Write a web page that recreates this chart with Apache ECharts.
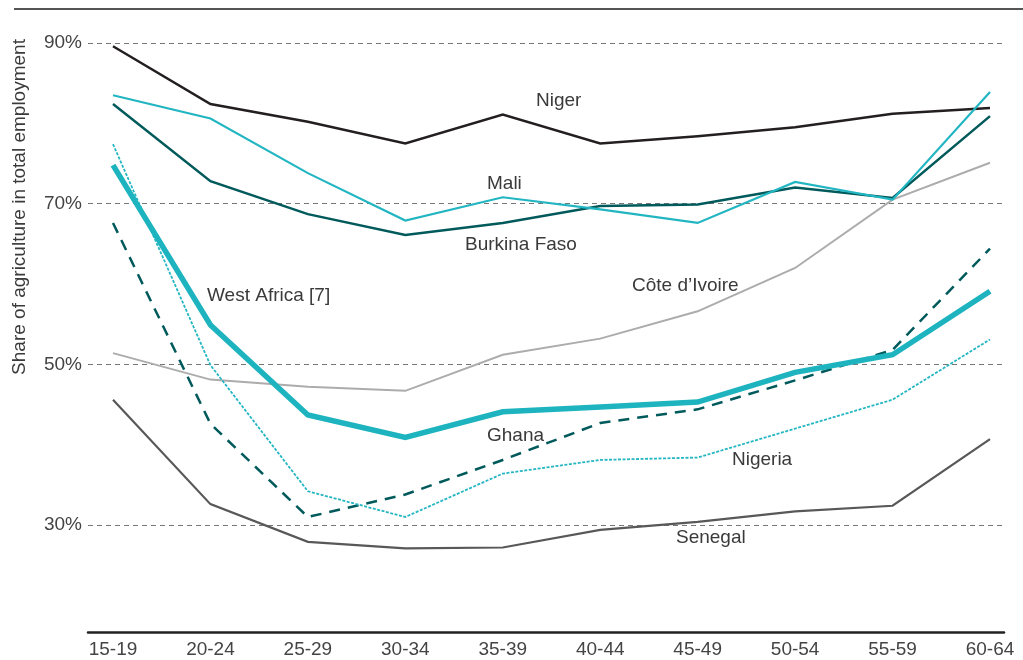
<!DOCTYPE html>
<html>
<head>
<meta charset="utf-8">
<script src="https://cdn.jsdelivr.net/npm/echarts@6/dist/echarts.min.js"></script>
<style>
  html, body { margin: 0; padding: 0; background: #fff; }
  #main { width: 1023px; height: 660px; }
</style>
</head>
<body>
<div id="main"></div>
<script>
// age groups on the x axis
var ageGroups = ['15-19', '20-24', '25-29', '30-34', '35-39', '40-44', '45-49', '50-54', '55-59', '60-64'];
var yTicks = [10, 30, 50, 70, 90];

// share of agriculture in total employment, %
var niger        = [89.6, 82.4, 80.2, 77.5, 81.1, 77.5, 78.4, 79.5, 81.2, 81.9];
var mali         = [83.5, 80.6, 73.8, 67.9, 70.8, 69.3, 67.6, 72.7, 70.5, 83.9];
var burkinaFaso  = [82.4, 72.8, 68.7, 66.1, 67.6, 69.7, 69.9, 72.0, 70.7, 80.9];
var coteDIvoire  = [51.4, 48.1, 47.2, 46.7, 51.2, 53.2, 56.6, 62.0, 70.5, 75.1];
var westAfrica   = [74.8, 54.9, 43.7, 40.9, 44.1, 44.7, 45.3, 49.0, 51.2, 59.1];
var ghana        = [67.6, 42.6, 31.0, 33.8, 38.1, 42.7, 44.4, 48.0, 51.8, 64.4];
var nigeria      = [77.4, 49.9, 34.2, 31.0, 36.4, 38.1, 38.4, 42.0, 45.6, 53.1];
var senegal      = [45.6, 32.6, 27.9, 27.1, 27.2, 29.4, 30.4, 31.7, 32.4, 40.7];

var font = 'Liberation Sans, Arial, sans-serif';
var chart = echarts.init(document.getElementById('main'));

function line(name, data, color, width, dash) {
  return {
    name: name,
    type: 'line',
    xAxisIndex: 1,
    yAxisIndex: 1,
    data: data,
    symbol: 'none',
    lineStyle: { color: color, width: width, type: dash || 'solid', join: 'miter' },
    z: 3
  };
}

function note(text, x, y) {
  return {
    type: 'text', x: x, y: y,
    style: { text: text, fill: '#3a3a3a', font: '19px ' + font, textVerticalAlign: 'middle' }
  };
}

var option = {
  animation: false,
  backgroundColor: '#fff',
  grid: [
    { left: 88, right: 19, top: 43, bottom: -25.7, containLabel: false, outerBoundsMode: 'none' },
    { left: 113, right: 33, top: 43, bottom: -25.7, containLabel: false, outerBoundsMode: 'none' }
  ],
  xAxis: [
    {
      type: 'category', gridIndex: 0, data: ageGroups, offset: -53.7,
      axisLine: { show: true, onZero: false, lineStyle: { color: '#222', width: 2.5 } },
      axisTick: { show: false }, axisLabel: { show: false }, splitLine: { show: false }
    },
    {
      type: 'category', gridIndex: 1, data: ageGroups, boundaryGap: false, offset: -53.7,
      axisLine: { show: false, onZero: false }, axisTick: { show: false },
      axisLabel: { color: '#444', fontSize: 19, fontFamily: font, margin: 8, interval: 0 },
      splitLine: { show: false }
    }
  ],
  yAxis: [
    {
      type: 'value', gridIndex: 0, min: yTicks[0], max: yTicks[yTicks.length - 1], interval: 20,
      axisLine: { show: false }, axisTick: { show: false },
      axisLabel: { formatter: '{value}%', color: '#444', fontSize: 19, fontFamily: font, margin: 6 },
      splitLine: { lineStyle: { color: '#777', width: 1, type: [5, 4] } }
    },
    {
      type: 'value', gridIndex: 1, min: yTicks[0], max: yTicks[yTicks.length - 1], interval: 20,
      show: false, splitLine: { show: false }
    }
  ],
  series: [
    line('Côte d’Ivoire', coteDIvoire, '#acacac', 2),
    line('Senegal', senegal, '#58585a', 2.2),
    line('Niger', niger, '#231f20', 2.5),
    line('Burkina Faso', burkinaFaso, '#005a5b', 2.5),
    line('Mali', mali, '#22b5c2', 2.2),
    line('Ghana', ghana, '#005a5b', 2.5, [11, 8]),
    line('Nigeria', nigeria, '#25b6c3', 1.8, [3, 1.5]),
    line('West Africa [7]', westAfrica, '#1db4bf', 5.5)
  ],
  graphic: [
    { type: 'line', shape: { x1: 14, y1: 9, x2: 1023, y2: 9 }, style: { stroke: '#555', lineWidth: 2 } },
    {
      type: 'text', x: 20, y: 207, rotation: Math.PI / 2,
      style: { text: 'Share of agriculture in total employment', fill: '#3a3a3a', font: '19px ' + font,
               textAlign: 'center', textVerticalAlign: 'middle' }
    },
    note('Niger', 536, 101),
    note('Mali', 487, 184),
    note('Burkina Faso', 465, 245),
    note('Côte d’Ivoire', 632, 286),
    note('West Africa [7]', 207, 296),
    note('Ghana', 487, 436),
    note('Nigeria', 732, 460),
    note('Senegal', 676, 538)
  ]
};

chart.setOption(option);
</script>
</body>
</html>
